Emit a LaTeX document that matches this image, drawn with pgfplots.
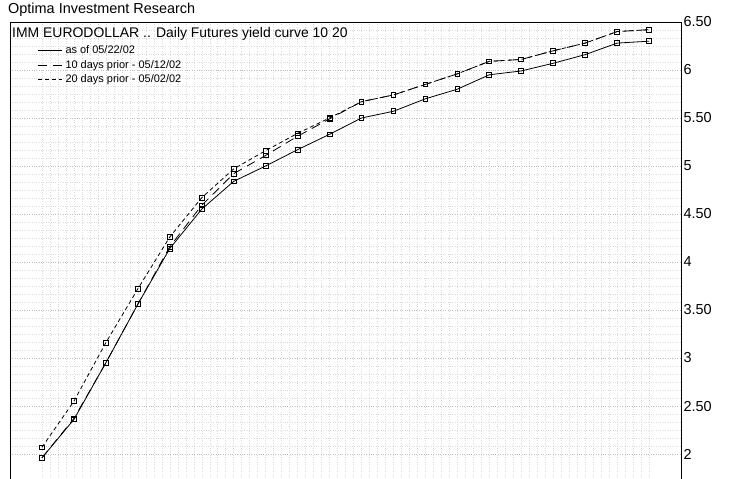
\documentclass[border=0pt]{standalone}
\usepackage{fontspec}
\setmainfont{Liberation Sans}
\usepackage{pgfplots}
\pgfplotsset{compat=1.18}
\begin{document}
\begin{tikzpicture}[x=1bp,y=1bp]
\useasboundingbox (0,0) rectangle (734,479);
\node[anchor=base west, inner sep=0pt, font=\fontsize{14.5}{16}\selectfont] at (8,465) {Optima Investment Research};
\begin{axis}[
  at={(10bp,0bp)}, anchor=south west,
  scale only axis, width=671bp, height=457bp,
  xmin=0, xmax=21, ymin=1.74, ymax=6.5,
  axis line style={draw=none},
  tick style={draw=none},
  xtick={1,...,20}, xticklabels={},
  ytick={2,2.5,...,6.5},
  yticklabels={2,2.50,3,3.50,4,4.50,5,5.50,6,6.50},
  yticklabel pos=right,
  yticklabel style={font=\fontsize{14.5}{16}\selectfont, anchor=west, xshift=-1bp},
  /pgf/number format/assume math mode=true,
  minor x tick num=3, minor y tick num=5,
  grid=both,
  major grid style={gray!50, dotted},
  minor grid style={gray!28, dotted},
  major x grid style={gray!28, dotted},
  clip=false,
  legend cell align=left,
  legend style={draw=none, fill=none, at={(rel axis cs:0.041,0.952)}, anchor=north west,
    font=\fontsize{11}{12}\selectfont, row sep=1bp, inner sep=0pt,
    nodes={inner sep=1.5bp, text height=8bp, text depth=2.5bp},
    /tikz/every odd column/.append style={column sep=1.5bp}},
  legend image code/.code={\draw[#1] (0bp,0bp) -- (24bp,0bp);},
]
\addplot[black, solid, line width=0.8bp, mark=square, mark size=2.4bp,
    mark options={solid, fill=white, line width=0.8bp}] coordinates {
(1,1.96) (2,2.36) (3,2.95) (4,3.56) (5,4.14) (6,4.55) (7,4.84) (8,5.00) (9,5.17) (10,5.33)
(11,5.50) (12,5.57) (13,5.70) (14,5.80) (15,5.95) (16,5.99) (17,6.07) (18,6.16) (19,6.28) (20,6.30)
};
\addlegendentry{as of 05/22/02}
\addplot[black, dash pattern=on 9bp off 6bp, line width=0.8bp, mark=square, mark size=2.4bp,
    mark options={solid, fill=white, line width=0.8bp}] coordinates {
(1,1.96) (2,2.37) (3,2.95) (4,3.56) (5,4.16) (6,4.59) (7,4.92) (8,5.11) (9,5.31) (10,5.49)
(11,5.67) (12,5.74) (13,5.85) (14,5.96) (15,6.09) (16,6.11) (17,6.20) (18,6.28) (19,6.40) (20,6.42)
};
\addlegendentry{10 days prior - 05/12/02}
\addplot[black, dash pattern=on 4bp off 3bp, line width=0.8bp, mark=square, mark size=2.4bp,
    mark options={solid, fill=white, line width=0.8bp}] coordinates {
(1,2.07) (2,2.55) (3,3.16) (4,3.72) (5,4.26) (6,4.67) (7,4.97) (8,5.16) (9,5.34) (10,5.50)
(11,5.67) (12,5.74) (13,5.85) (14,5.96) (15,6.09) (16,6.11) (17,6.20) (18,6.28) (19,6.40) (20,6.42)
};
\addlegendentry{20 days prior - 05/02/02}
\draw[black, line width=0.9bp] (rel axis cs:0,0) -- (rel axis cs:0,1) -- (rel axis cs:1,1) -- (rel axis cs:1,0);
\node[anchor=base west, inner sep=0pt, font=\fontsize{14}{16}\selectfont] at (rel axis cs:0.003,0.965) {IMM EURODOLLAR .. Daily Futures yield curve 10 20};
\end{axis}
\end{tikzpicture}
\end{document}
